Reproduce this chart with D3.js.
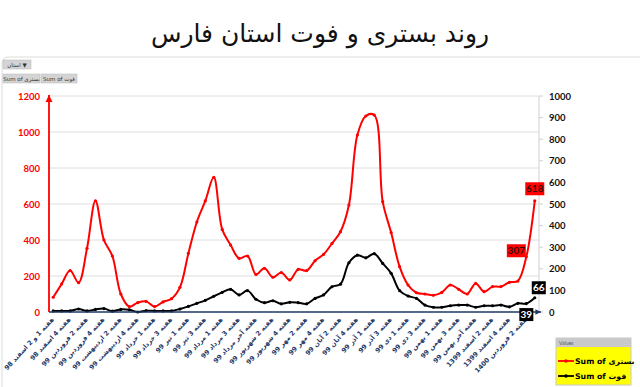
<!DOCTYPE html>
<html>
<head>
<meta charset="utf-8">
<script src="https://cdn.jsdelivr.net/npm/d3@7"></script>
<style>
  html, body { margin: 0; padding: 0; background: #fff; }
  svg { display: block; }
</style>
</head>
<body>
<svg id="sv" width="640" height="387"></svg>
<script>
// weekly values, Fars province
const bastari = [82, 156, 230, 163, 354, 618, 400, 311, 100, 30, 52, 59, 30, 56, 74, 137, 326, 500, 617, 748,
  459, 372, 298, 311, 209, 243, 193, 219, 178, 237, 230, 285, 320, 381, 446, 594, 983, 1089, 1094, 613,
  441, 252, 150, 107, 100, 93, 109, 150, 126, 100, 159, 113, 141, 141, 165, 172, 307, 618];
const fot = [5, 5, 5, 14, 5, 12, 16, 4, 12, 10, 0, 6, 5, 5, 5, 14, 26, 40, 54, 73,
  91, 105, 79, 99, 59, 43, 52, 38, 45, 43, 38, 63, 79, 117, 129, 228, 263, 251, 270, 225,
  179, 99, 74, 63, 32, 22, 22, 29, 32, 32, 22, 29, 29, 32, 24, 40, 39, 66];
// only every second week carries a label
const tickLabels = ["هفته 1 و 2 اسفند 98", "هفته 4 اسفند 98", "هفته 2 فروردین 99", "هفته 4 فروردین 99",
  "هفته 2 اردیبهشت 99", "هفته 4 اردیبهشت 99", "هفته 1 خرداد 99", "هفته 3 خرداد 99", "هفته 1 تیر 99",
  "هفته 3 تیر 99", "هفته 1 مرداد 99", "هفته 3 مرداد 99", "هفته آخر مرداد 99", "هفته 2 شهریور 99",
  "هفته 4 شهریور 99", "هفته 2 مهر 99", "هفته 4 مهر 99", "هفته 2 آبان 99", "هفته 4 آبان 99",
  "هفته 1 آذر 99", "هفته 3 آذر 99", "هفته 1 دی 99", "هفته 3 دی 99", "هفته 1 بهمن 99",
  "هفته 3 بهمن 99", "هفته آخر بهمن 99", "هفته 2 اسفند 1399", "هفته 4 اسفند 1399", "هفته 2 فروردین 1400"];
const leftTicks = [0, 200, 400, 600, 800, 1000, 1200];
const rightTicks = [0, 100, 200, 300, 400, 500, 600, 700, 800, 900, 1000];
const dataLabels = [
  { s: "b", i: 57, v: 618, dx: 0, dy: -12, w: 19 },
  { s: "b", i: 56, v: 307, dx: -10, dy: -6, w: 19 },
  { s: "f", i: 57, v: 66, dx: 4, dy: -10, w: 14 },
  { s: "f", i: 56, v: 39, dx: 0, dy: 11, w: 14 }
];

const NAVY = "#1f3864", RED = "#ff0000";
const NUM = "Lato, 'Liberation Sans', sans-serif", AR = "'DejaVu Sans', sans-serif";
const svg = d3.select("#sv");

const x = d3.scaleBand().domain(d3.range(bastari.length)).range([49, 539]);
const cx = i => x(i) + x.bandwidth() / 2;
const yL = d3.scaleLinear().domain([0, 1200]).range([312, 96]);
const yR = d3.scaleLinear().domain([0, 1000]).range([312, 96]);

// title + chart frame
svg.append("text").attr("x", 320).attr("y", 42).attr("text-anchor", "middle")
  .attr("font-family", AR).attr("font-size", 25).attr("fill", "#111").text("روند بستری و فوت استان فارس");
svg.append("rect").attr("x", 2).attr("y", 57).attr("width", 660).attr("height", 340).attr("rx", 6)
  .attr("fill", "none").attr("stroke", "#dcdcdc");

// pivot field buttons
const btn = (bx, by, w, t) => {
  svg.append("rect").attr("x", bx).attr("y", by).attr("width", w).attr("height", 9).attr("fill", "#d4d4d4").attr("stroke", "#b8b8b8").attr("stroke-width", .5);
  svg.append("text").attr("x", bx + w / 2).attr("y", by + 6.5).attr("text-anchor", "middle")
    .attr("font-family", AR).attr("font-size", 5.5).attr("fill", "#333").text(t);
};
btn(3, 60, 28, "استان ▼");
btn(3, 74, 37, "Sum of بستری");
btn(41, 74, 36, "Sum of فوت");

const defs = svg.append("defs");
defs.append("marker").attr("id", "arR").attr("viewBox", "0 0 10 10").attr("refX", 10).attr("refY", 5)
  .attr("markerWidth", 4).attr("markerHeight", 4).attr("orient", "auto")
  .append("path").attr("d", "M0 0L10 5L0 10z").attr("fill", RED);
defs.append("marker").attr("id", "arN").attr("viewBox", "0 0 10 10").attr("refX", 10).attr("refY", 5)
  .attr("markerWidth", 3.5).attr("markerHeight", 3.5).attr("orient", "auto")
  .append("path").attr("d", "M0 0L10 5L0 10z").attr("fill", NAVY);

// gridlines
svg.append("g").selectAll("line").data(leftTicks.slice(1)).enter().append("line")
  .attr("x1", 49).attr("x2", 539).attr("y1", d => yL(d)).attr("y2", d => yL(d))
  .attr("stroke", "#dedede").attr("stroke-width", 1);

// right axis
svg.append("line").attr("x1", 539).attr("x2", 539).attr("y1", 96).attr("y2", 312).attr("stroke", "#d0d0d0");
svg.append("g").selectAll("line").data(rightTicks).enter().append("line")
  .attr("x1", 539).attr("x2", 543).attr("y1", d => yR(d)).attr("y2", d => yR(d)).attr("stroke", "#d0d0d0");
svg.append("g").selectAll("text").data(rightTicks).enter().append("text")
  .attr("x", 549).attr("y", d => yR(d) + 3.5).attr("font-family", NUM).attr("font-weight", 700)
  .attr("font-size", 9.5).attr("fill", "#111").text(d => d);

// left axis
svg.append("g").selectAll("text").data(leftTicks).enter().append("text")
  .attr("x", 40).attr("y", d => yL(d) + 3.5).attr("text-anchor", "end").attr("font-family", NUM).attr("font-weight", 700)
  .attr("font-size", 9.5).attr("fill", RED).text(d => d);
svg.append("line").attr("x1", 49).attr("x2", 49).attr("y1", 312).attr("y2", 95)
  .attr("stroke", RED).attr("stroke-width", 1.8).attr("marker-end", "url(#arR)");

// lines
const line = (ys, vals) => d3.line().x((d, i) => cx(i)).y(d => ys(d)).curve(d3.curveCatmullRom.alpha(.5))(vals);
const series = [{ vals: fot, ys: yR, c: "#000" }, { vals: bastari, ys: yL, c: RED }];
series.forEach(s => {
  svg.append("path").attr("d", line(s.ys, s.vals)).attr("fill", "none").attr("stroke", s.c).attr("stroke-width", 2);
  svg.append("g").selectAll("circle").data(s.vals).enter().append("circle")
    .attr("cx", (d, i) => cx(i)).attr("cy", d => s.ys(d)).attr("r", 1.6).attr("fill", s.c);
});

// category axis
svg.append("line").attr("x1", 49).attr("x2", 541).attr("y1", 312).attr("y2", 312)
  .attr("stroke", NAVY).attr("stroke-width", 1.6).attr("marker-end", "url(#arN)");
svg.append("g").selectAll("text").data(tickLabels).enter().append("text")
  .attr("transform", (d, k) => `translate(${cx(k * 2) + 1},${320}) rotate(-47)`)
  .attr("text-anchor", "end").attr("font-family", AR).attr("font-weight", 700)
  .attr("font-size", 6.5).attr("fill", NAVY).text(d => d);

// data labels
dataLabels.forEach(l => {
  const px = cx(l.i) + l.dx, py = (l.s === "b" ? yL : yR)(l.v) + l.dy;
  const bg = l.s === "b" ? RED : "#000";
  svg.append("rect").attr("x", px - l.w / 2).attr("y", py - 6.5).attr("width", l.w).attr("height", 13).attr("fill", bg);
  svg.append("text").attr("x", px).attr("y", py + 3.5).attr("text-anchor", "middle").attr("font-family", NUM)
    .attr("font-weight", 700).attr("font-size", 10).attr("fill", l.s === "b" ? "#3a0a0a" : "#fff").text(l.v);
});

// legend
const lg = svg.append("g").attr("transform", "translate(556,338)");
lg.append("rect").attr("width", 75).attr("height", 47).attr("fill", "#ffff00").attr("stroke", "#c8c8c8");
lg.append("rect").attr("width", 75).attr("height", 9).attr("fill", "#c9c9c9");
lg.append("text").attr("x", 3).attr("y", 6.5).attr("font-family", NUM).attr("font-size", 5).attr("fill", "#555").text("Values");
[{ c: RED, t: "Sum of بستری", y: 23 }, { c: "#000", t: "Sum of فوت", y: 38 }].forEach(e => {
  lg.append("line").attr("x1", 2).attr("x2", 18).attr("y1", e.y).attr("y2", e.y).attr("stroke", e.c).attr("stroke-width", 1.8);
  lg.append("circle").attr("cx", 10).attr("cy", e.y).attr("r", 1.8).attr("fill", e.c);
  lg.append("text").attr("x", 19).attr("y", e.y + 3).attr("font-family", AR).attr("font-weight", 700)
    .attr("font-size", 7.8).attr("fill", "#000").text(e.t);
});
</script>
</body>
</html>
